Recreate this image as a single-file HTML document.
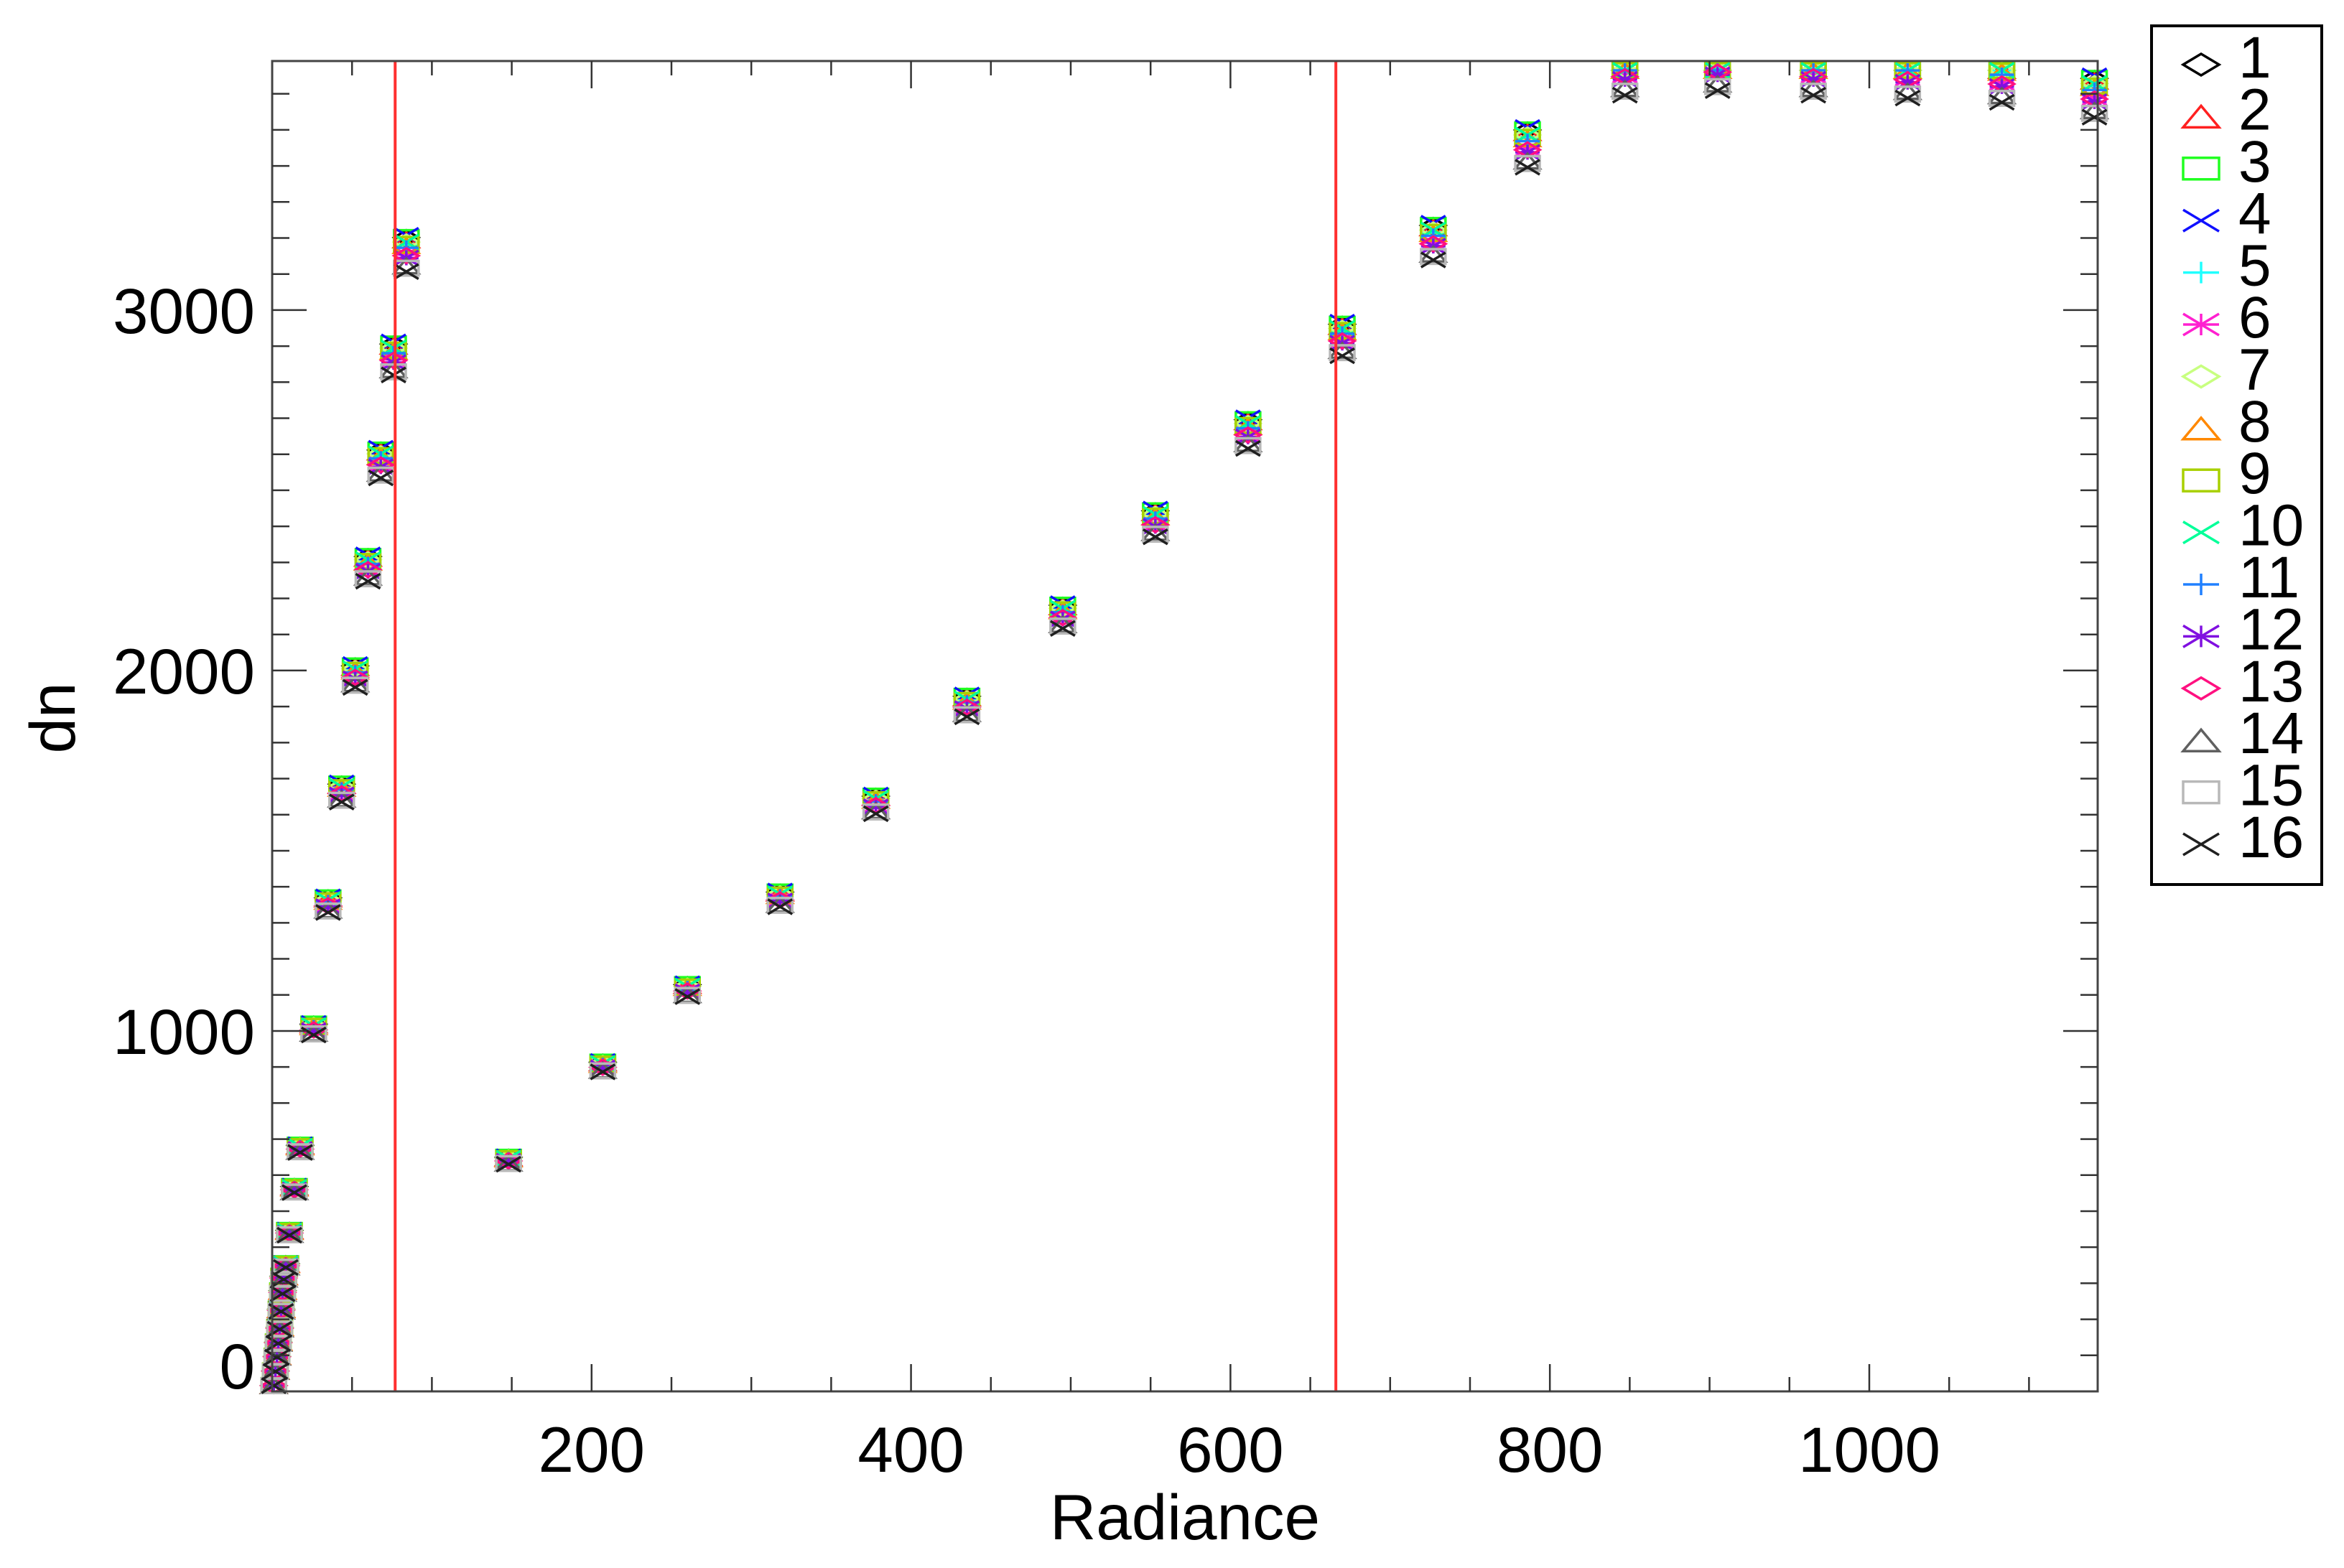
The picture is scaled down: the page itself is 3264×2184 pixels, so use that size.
<!DOCTYPE html>
<html><head><meta charset="utf-8"><style>
html,body{margin:0;padding:0;background:#fff}
svg{display:block}
text{font-family:"Liberation Sans",sans-serif;fill:#000}
</style></head><body>
<svg id="chart" width="3264" height="2184" viewBox="0 0 3264 2184" xmlns="http://www.w3.org/2000/svg">
<g id="grid"></g>
<g id="marks"></g>
<g id="axes"></g>
<g id="legend"></g>
</svg>
<script>
const radiance = [1,2,3,3.8,4.7,5.6,6.5,7.2,8.5,10.8,13.9,17.5,26,35,43.5,52,60,68,76,84,148,207,260,318,378,435,495,553,611,670,727,786,847,905,965,1024,1083,1141];
const dnValues = [16,56,96,135,175,225,275,315,349,440,560,673,1004,1349,1660,1983,2282,2573,2863,3154,640,900,1112,1365,1627,1900,2149,2407,2656,2917,3187,3448,3651,3664,3651,3643,3631,3589];
const seriesNames = ["1","2","3","4","5","6","7","8","9","10","11","12","13","14","15","16"];
const seriesGain = [1.015,1.013,1.015,1.017,1.009,1.0,1.011,1.008,1.009,1.011,1.006,0.997,0.999,0.99,0.988,0.985];
const seriesColor = ["#000000","#ff2020","#20ff20","#1010ff","#20ffff","#ff20d0","#c8ff80","#ff8800","#a8d000","#00ff99","#2080ff","#8010e0","#ff1080","#606060","#b8b8b8","#202020"];
const seriesSymbol = ["diamond","triangle","square","x","plus","asterisk","diamond","triangle","square","x","plus","asterisk","diamond","triangle","square","x"];
const xTicks = [200,400,600,800,1000];
const yTicks = [0,1000,2000,3000];
const refLines = [77,666];
const saturation = 3665;

const NS="http://www.w3.org/2000/svg";
const L=379,R=2921,T=85,B=1938,XMAX=1143,YMAX=3691;
const sx=v=>L+(v/XMAX)*(R-L);
const sy=v=>B-(v/YMAX)*(B-T);
function mk(tag,attrs,parent){const e=document.createElementNS(NS,tag);for(const k in attrs)e.setAttribute(k,attrs[k]);parent.appendChild(e);return e;}
const axes=document.getElementById('axes'),marks=document.getElementById('marks'),leg=document.getElementById('legend');

function symbol(parent,type,cx,cy,s,color,w){
  const g=mk('g',{stroke:color,'stroke-width':w,fill:'none'},parent);
  const h=s/2, v=h*0.6;
  if(type==='diamond')mk('polygon',{points:`${cx-h},${cy} ${cx},${cy-v} ${cx+h},${cy} ${cx},${cy+v}`},g);
  else if(type==='triangle')mk('polygon',{points:`${cx-h},${cy+v} ${cx},${cy-v} ${cx+h},${cy+v}`},g);
  else if(type==='square')mk('rect',{x:cx-h,y:cy-v,width:s,height:2*v},g);
  else if(type==='x'){mk('line',{x1:cx-h,y1:cy-v,x2:cx+h,y2:cy+v},g);mk('line',{x1:cx-h,y1:cy+v,x2:cx+h,y2:cy-v},g);}
  else if(type==='plus'){mk('line',{x1:cx-h,y1:cy,x2:cx+h,y2:cy},g);mk('line',{x1:cx,y1:cy-v,x2:cx,y2:cy+v},g);}
  else if(type==='asterisk'){mk('line',{x1:cx-h,y1:cy,x2:cx+h,y2:cy},g);mk('line',{x1:cx,y1:cy-v,x2:cx,y2:cy+v},g);mk('line',{x1:cx-h,y1:cy-v,x2:cx+h,y2:cy+v},g);mk('line',{x1:cx-h,y1:cy+v,x2:cx+h,y2:cy-v},g);}
  return g;
}

seriesNames.forEach((nm,si)=>{
  const g=mk('g',{},marks);
  
  
  radiance.forEach((r,i)=>{
    const val=Math.min(dnValues[i]*seriesGain[si],saturation);
    const m=symbol(g,seriesSymbol[si],sx(r),sy(val),34,seriesColor[si],3.5);
    
    
  });
});

refLines.forEach(v=>{
  const l=mk('line',{x1:sx(v),x2:sx(v),y1:T,y2:B,stroke:'#ff3030','stroke-width':4},axes);
  
  
});

const fr=mk('rect',{x:L,y:T,width:R-L,height:B-T,fill:'none',stroke:'#444','stroke-width':3},axes);



for(let v=50;v<XMAX;v+=50){
  const major=v%200===0, len=major?38:20, x=sx(v);
  mk('line',{x1:x,x2:x,y1:B,y2:B-len,stroke:'#333','stroke-width':2.5},axes);
  mk('line',{x1:x,x2:x,y1:T,y2:T+len,stroke:'#333','stroke-width':2.5},axes);
}
xTicks.forEach(v=>{
  const t=mk('text',{x:sx(v),y:2050,'font-size':89,'text-anchor':'middle'},axes);
  t.textContent=v;
  
  
});
for(let v=100;v<YMAX;v+=100){
  const major=v%1000===0, len=major?48:24, y=sy(v);
  mk('line',{x1:L,x2:L+len,y1:y,y2:y,stroke:'#333','stroke-width':2.5},axes);
  mk('line',{x1:R,x2:R-len,y1:y,y2:y,stroke:'#333','stroke-width':2.5},axes);
}
yTicks.forEach(v=>{
  const yy=v===0?sy(v)-4:sy(v)+32;
  const t=mk('text',{x:355,y:yy,'font-size':89,'text-anchor':'end'},axes);
  t.textContent=v;
  
  
});
const xt=mk('text',{x:1650,y:2144,'font-size':89,'text-anchor':'middle'},axes);
xt.textContent='Radiance';


const yt=mk('text',{x:0,y:0,'font-size':89,'text-anchor':'middle',transform:'translate(104,1000) rotate(-90)'},axes);
yt.textContent='dn';



const lb=mk('rect',{x:2996,y:36,width:237,height:1196,fill:'#fff',stroke:'#000','stroke-width':4},leg);


seriesNames.forEach((nm,si)=>{
  const y=90+si*72.4;
  const g=mk('g',{},leg);
  
  
  symbol(g,seriesSymbol[si],3065,y,50,seriesColor[si],3.5);
  const t=mk('text',{x:3117,y:y+18,'font-size':82},g);
  t.textContent=nm;
});
</script>
</body></html>
